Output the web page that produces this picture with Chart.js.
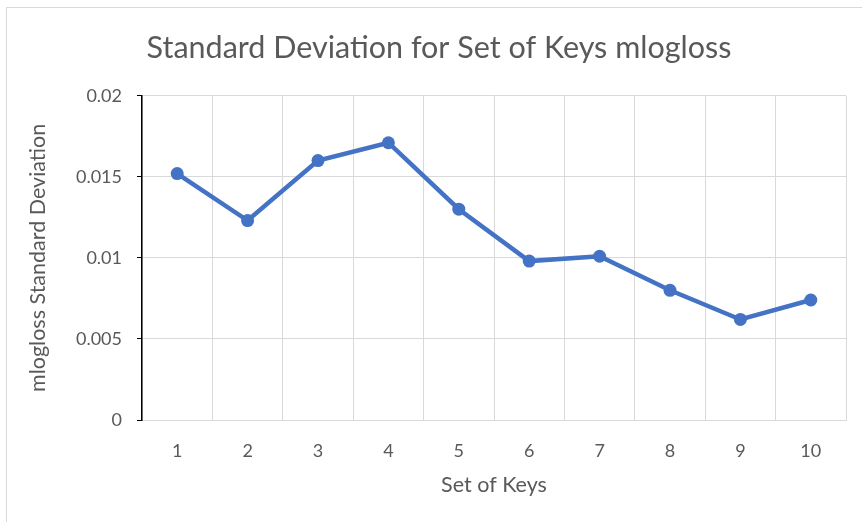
<!DOCTYPE html>
<html>
<head>
<meta charset="utf-8">
<script src="https://cdn.jsdelivr.net/npm/chart.js@4"></script>
<style>
  body { margin: 0; background: #fff; }
  #frame { position: absolute; left: 6px; top: 7px; width: 870px; height: 530px; border: 1px solid #d9d9d9; }
  #chart { position: absolute; left: 0; top: 0; }
</style>
</head>
<body>
<div id="frame"></div>
<canvas id="chart" width="862" height="522"></canvas>
<script>
// values
const keySets = ["1", "2", "3", "4", "5", "6", "7", "8", "9", "10"];
const stdDev = [0.0152, 0.0123, 0.0160, 0.0171, 0.0130, 0.0098, 0.0101, 0.0080, 0.0062, 0.0074];
const yTicks = [0, 0.005, 0.01, 0.015, 0.02];

const grey = "#595959";
const gridGrey = "#d9d9d9";
const font = "Lato, 'Open Sans', sans-serif";

window.onload = function () {
  const ctx = document.getElementById("chart").getContext("2d");

  new Chart(ctx, {
    type: "line",
    data: {
      labels: keySets,
      datasets: [
        {
          label: "mlogloss",
          data: stdDev,
          borderColor: "#4472C4",
          backgroundColor: "#4472C4",
          borderWidth: 4.5,
          pointRadius: 6.5,
          pointHoverRadius: 6.5,
          pointBorderWidth: 0,
          tension: 0,
          fill: false,
        },
      ],
    },
    options: {
      animation: false,
      responsive: false,
      devicePixelRatio: 1,
      // left padding shifts the title centre to match the original
      layout: { padding: { top: 0, right: 16, bottom: 0, left: 32 } },
      plugins: {
        legend: { display: false },
        tooltip: { enabled: false },
        title: {
          display: true,
          text: "Standard Deviation for Set of Keys mlogloss",
          color: grey,
          font: { family: font, size: 30.5, weight: "normal", lineHeight: 1.2 },
          padding: { top: 30, bottom: 29.1 },
        },
      },
      scales: {
        x: {
          offset: true,
          grid: { offset: true, color: gridGrey, lineWidth: 1, drawTicks: false },
          border: { color: gridGrey, width: 1 },
          ticks: { color: grey, font: { family: font, size: 18 }, padding: 20 },
          title: {
            display: true,
            text: "Set of Keys",
            color: grey,
            font: { family: font, size: 21.5, lineHeight: 1.2 },
            padding: { top: 0, bottom: 24 },
          },
          afterFit: function (scale) {
            scale.height = 102;
          },
        },
        y: {
          min: 0,
          max: 0.02,
          afterBuildTicks: function (scale) {
            scale.ticks = yTicks.map((v) => ({ value: v }));
          },
          grid: { color: gridGrey, lineWidth: 1, tickColor: "#000", tickLength: 5 },
          border: { color: "#000", width: 1.5 },
          ticks: {
            color: grey,
            font: { family: font, size: 18 },
            padding: 15,
            callback: (v) => String(v),
          },
          title: {
            display: true,
            text: "mlogloss Standard Deviation",
            color: grey,
            font: { family: font, size: 21.5, lineHeight: 1.2 },
            padding: { top: -7, bottom: 0 },
          },
          afterFit: function (scale) {
            scale.width = 110;
          },
        },
      },
    },
  });
};
</script>
</body>
</html>
